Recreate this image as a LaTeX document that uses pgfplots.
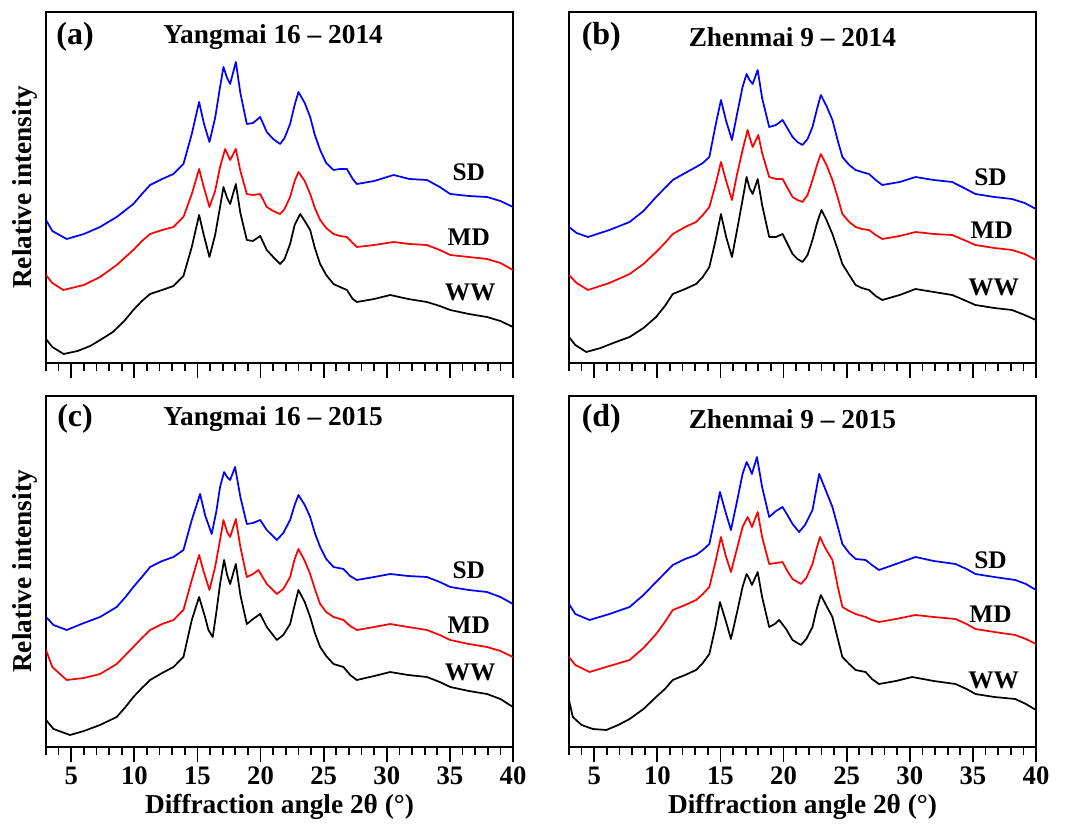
\documentclass[border=0pt]{standalone}
\usepackage{pgfplots}
\pgfplotsset{compat=1.18}
\usepackage{fontspec}
\setmainfont{Liberation Serif}
\begin{document}
\begin{tikzpicture}
\pgfplotsset{
  xrdpanel/.style={
    scale only axis, width=350.25pt, height=263.25pt,
    anchor=south west,
    xmin=3, xmax=40, ymin=0, ymax=351,
    axis line style={line width=1.4pt},
    xtick={5,10,...,40}, minor xtick={3,4,...,40},
    ytick=\empty,
    xtick pos=bottom, tick align=outside,
    major tick length=11.5pt, minor tick length=6pt,
    every tick/.style={line width=1.3pt,black},
    font=\fontsize{19}{22}\selectfont\bfseries,
    ticklabel style={font=\fontsize{20}{22}\selectfont\bfseries},
    /pgf/number format/assume math mode=true,
    ylabel={Relative intensity},
    ylabel style={at={(axis description cs:-0.045,0.5)},anchor=center,font=\fontsize{20.5}{24}\selectfont\bfseries},
    xlabel style={font=\fontsize{20.5}{24}\selectfont\bfseries},
    clip=true,
  },
  ww/.style={black,line width=1.3pt,line join=round},
  md/.style={red,line width=1.3pt,line join=round},
  sd/.style={blue,line width=1.3pt,line join=round},
}
\newcommand{\lbl}[1]{\fontsize{19}{22}\selectfont\bfseries #1}
\newcommand{\ttl}[1]{\fontsize{20.5}{24}\selectfont\bfseries #1}
\newcommand{\pan}[1]{\fontsize{24}{28}\selectfont\bfseries #1}
\path (0pt,0pt) rectangle (801.75pt,615.75pt);
% ---------------- (a)
\begin{axis}[xrdpanel, at={(34.5pt,343.5pt)}, xticklabels=\empty]
\addplot[ww] coordinates {(3,24) (3.5,16) (4.4,9) (5.5,12) (6.5,17) (7.3,23) (8.3,31) (9.2,42) (9.92,53) (10.6,62) (11.25,69) (12.2,73) (13.1,77) (13.89,87) (14.55,116) (15.13,148) (15.5,128) (15.95,106) (16.4,128) (16.79,156) (17.06,176) (17.35,165) (17.59,159) (18.04,179) (18.4,150) (18.91,123) (19.4,122) (19.97,127) (20.49,113) (21.0,106) (21.55,99) (21.9,104) (22.34,119) (22.7,138) (23.14,149) (23.5,142) (23.93,133) (24.3,115) (24.72,99) (25.2,88) (25.78,79) (26.3,76) (26.84,73) (27.3,64) (27.63,61) (29.0,64) (30.27,68) (31.7,64) (33.18,61) (34.2,57) (35.03,53) (36.5,49) (37.94,46) (39.0,42) (40,36)};
\addplot[md] coordinates {(3,88) (3.5,80) (4.37,73) (6.0,78) (7.28,86) (8.6,98) (9.92,113) (10.6,122) (11.25,129) (12.2,133) (13.1,136) (13.89,146) (14.55,169) (15.13,194) (15.5,176) (15.95,156) (16.4,172) (16.79,196) (17.19,214) (17.59,203) (18.04,214) (18.4,192) (18.91,169) (19.4,168) (19.97,169) (20.49,156) (21.0,152) (21.55,149) (21.9,154) (22.34,166) (22.7,182) (23.0,191) (23.5,182) (23.93,169) (24.3,155) (24.72,143) (25.2,135) (25.78,129) (26.3,127) (26.84,126) (27.3,120) (27.63,116) (29.0,118) (30.54,121) (31.8,119) (33.18,118) (34.2,113) (35.03,108) (36.5,106) (37.94,104) (39.0,100) (40,93)};
\addplot[sd] coordinates {(3,143) (3.5,132) (4.64,124) (6.0,129) (7.28,136) (8.6,146) (9.92,159) (10.6,169) (11.25,178) (12.2,184) (13.1,189) (13.89,199) (14.55,229) (15.13,261) (15.5,240) (15.95,221) (16.4,245) (16.79,276) (17.06,296) (17.35,285) (17.59,279) (18.04,301) (18.4,270) (18.91,239) (19.4,240) (19.97,246) (20.49,231) (21.0,224) (21.55,219) (21.9,225) (22.34,239) (22.7,258) (23.0,271) (23.5,260) (23.93,246) (24.3,228) (24.72,213) (25.2,200) (25.78,193) (26.3,194) (26.84,194) (27.3,184) (27.63,179) (29.0,182) (30.54,188) (31.8,184) (33.18,183) (34.2,176) (35.03,169) (36.5,167) (37.94,166) (39.0,162) (40,156)};
\node at (axis cs:36.5,191) {\lbl{SD}};
\node at (axis cs:36.5,126) {\lbl{MD}};
\node at (axis cs:36.6,71) {\lbl{WW}};
\node at (axis cs:5.3,326) {\pan{(a)}};
\node at (axis cs:21.0,326) {\ttl{Yangmai 16 – 2014}};
\end{axis}
% ---------------- (b)
\begin{axis}[xrdpanel, at={(426.75pt,343.5pt)}, xticklabels=\empty, ylabel={}]
\addplot[ww] coordinates {(3,26) (3.5,18) (4.37,11) (5.5,15) (6.5,20) (7.8,26) (8.9,35) (9.9,46) (10.6,57) (11.22,69) (12.2,74) (13.07,79) (13.6,86) (14.12,96) (14.6,122) (15.04,149) (15.45,126) (15.91,106) (16.3,132) (16.75,163) (17.07,186) (17.3,175) (17.55,169) (17.95,184) (18.3,158) (18.86,126) (19.4,126) (19.92,129) (20.71,109) (21.1,104) (21.5,101) (21.9,108) (22.29,123) (22.65,140) (23.0,153) (23.4,143) (23.87,129) (24.3,113) (24.66,99) (25.2,88) (25.71,78) (26.2,75) (26.77,73) (27.3,67) (27.82,63) (29.2,68) (30.46,74) (31.9,71) (33.36,68) (34.3,63) (35.2,58) (36.7,55) (38.1,53) (39.1,48) (40,43)};
\addplot[md] coordinates {(3,88) (3.6,80) (4.5,73) (6.2,80) (7.8,89) (8.9,99) (9.9,111) (10.6,120) (11.22,129) (12.2,136) (13.07,141) (13.6,148) (14.12,156) (14.6,178) (15.04,201) (15.45,182) (15.91,163) (16.3,188) (16.75,213) (17.15,233) (17.3,226) (17.55,216) (18.0,228) (18.3,210) (18.86,186) (19.4,184) (19.92,184) (20.71,166) (21.1,163) (21.5,161) (21.9,168) (22.29,183) (22.65,198) (22.95,209) (23.4,198) (23.87,183) (24.3,165) (24.66,149) (25.2,141) (25.71,136) (26.2,134) (26.77,133) (27.3,128) (27.82,124) (29.2,127) (30.46,131) (31.9,129) (33.36,128) (34.3,123) (35.2,118) (36.7,115) (38.1,113) (39.1,109) (40,103)};
\addplot[sd] coordinates {(3,136) (3.6,130) (4.5,126) (6.2,133) (7.8,141) (8.9,152) (9.9,166) (10.6,175) (11.22,183) (12.2,190) (13.07,196) (13.6,200) (14.12,206) (14.6,237) (15.04,263) (15.45,242) (15.91,223) (16.3,248) (16.75,276) (17.07,289) (17.3,283) (17.55,279) (17.95,293) (18.3,265) (18.86,236) (19.4,238) (19.92,243) (20.71,226) (21.1,221) (21.5,218) (21.9,224) (22.29,236) (22.65,254) (22.95,268) (23.4,257) (23.87,243) (24.3,222) (24.66,206) (25.2,198) (25.71,193) (26.2,191) (26.77,189) (27.3,183) (27.82,178) (29.2,181) (30.46,186) (31.9,183) (33.36,181) (34.3,175) (35.2,169) (36.7,166) (38.1,164) (39.1,160) (40,154)};
\node at (axis cs:36.4,186) {\lbl{SD}};
\node at (axis cs:36.5,133) {\lbl{MD}};
\node at (axis cs:36.65,76) {\lbl{WW}};
\node at (axis cs:5.56,326) {\pan{(b)}};
\node at (axis cs:20.7,326) {\ttl{Zhenmai 9 – 2014}};
\end{axis}
% ---------------- (c)
\begin{axis}[xrdpanel, at={(34.5pt,55.5pt)}, xlabel={Diffraction angle 2θ (°)}]
\addplot[ww] coordinates {(3,27) (3.6,18) (4.9,12) (6.0,16) (7.28,22) (8.6,30) (9.3,40) (9.92,50) (10.6,59) (11.25,67) (12.2,74) (13.1,80) (13.89,90) (14.55,127) (15.13,150) (15.6,130) (15.87,117) (16.21,110) (16.5,135) (16.79,163) (17.11,187) (17.35,172) (17.59,163) (18.04,183) (18.4,152) (18.91,123) (19.4,128) (19.97,133) (20.49,120) (21.29,107) (21.8,112) (22.34,123) (22.7,142) (23.0,157) (23.5,145) (23.93,130) (24.3,114) (24.72,100) (25.2,91) (25.78,83) (26.57,80) (27.1,72) (27.63,67) (29.0,71) (30.27,75) (31.7,72) (33.18,70) (34.2,65) (35.03,60) (36.5,56) (37.94,53) (39.0,48) (40,40)};
\addplot[md] coordinates {(3,97) (3.5,80) (4.64,67) (6.0,69) (7.28,73) (8.6,83) (9.92,100) (10.6,109) (11.25,117) (12.2,123) (13.1,127) (13.89,137) (14.55,167) (15.13,192) (15.5,175) (15.95,157) (16.4,180) (16.79,207) (17.06,227) (17.35,215) (17.59,210) (18.04,228) (18.4,200) (18.91,170) (19.4,173) (19.83,177) (20.49,163) (21.29,153) (21.8,158) (22.34,170) (22.7,188) (23.0,198) (23.5,186) (23.93,173) (24.3,158) (24.72,143) (25.2,135) (25.78,130) (26.57,127) (27.1,121) (27.63,117) (29.0,120) (30.27,123) (31.7,120) (33.18,117) (34.2,112) (35.03,107) (36.5,103) (37.94,100) (39.0,96) (40,90)};
\addplot[sd] coordinates {(3,130) (3.6,122) (4.64,117) (6.0,124) (7.28,130) (8.6,140) (9.3,150) (9.92,160) (10.6,170) (11.25,180) (12.2,186) (13.1,190) (13.89,197) (14.55,227) (15.21,253) (15.6,232) (16.13,213) (16.5,236) (16.79,260) (17.11,275) (17.35,270) (17.59,267) (17.98,280) (18.4,250) (18.91,223) (19.4,224) (19.97,227) (20.49,217) (21.29,207) (21.8,214) (22.34,227) (22.7,242) (23.0,252) (23.5,242) (23.93,230) (24.3,214) (24.72,200) (25.2,188) (25.78,180) (26.57,178) (27.1,171) (27.63,167) (29.0,170) (30.27,173) (31.7,171) (33.18,170) (34.2,165) (35.03,160) (36.5,157) (37.94,155) (39.0,150) (40,143)};
\node at (axis cs:36.5,177) {\lbl{SD}};
\node at (axis cs:36.5,122) {\lbl{MD}};
\node at (axis cs:36.6,75) {\lbl{WW}};
\node at (axis cs:5.3,328) {\pan{(c)}};
\node at (axis cs:21.0,328) {\ttl{Yangmai 16 – 2015}};
\end{axis}
% ---------------- (d)
\begin{axis}[xrdpanel, at={(426.75pt,55.5pt)}, ylabel={}, xlabel={Diffraction angle 2θ (°)}]
\addplot[ww] coordinates {(3,47) (3.3,30) (4.0,22) (4.9,18) (5.95,17) (6.9,22) (7.8,28) (8.9,38) (9.9,50) (10.6,58) (11.22,67) (12.2,72) (13.07,77) (13.6,84) (14.12,93) (14.6,120) (14.96,145) (15.4,127) (15.83,108) (16.3,134) (16.75,160) (17.07,173) (17.3,168) (17.49,162) (17.95,175) (18.3,150) (18.86,120) (19.3,123) (19.65,127) (20.2,118) (20.71,107) (21.37,102) (21.8,108) (22.29,120) (22.6,137) (22.95,152) (23.4,141) (23.87,130) (24.3,108) (24.66,90) (25.2,83) (25.71,77) (26.5,75) (27.0,68) (27.56,63) (28.9,66) (30.19,70) (31.9,66) (33.62,63) (34.5,58) (35.2,53) (36.7,50) (38.36,48) (39.2,43) (40,37)};
\addplot[md] coordinates {(3,90) (3.5,82) (4.63,75) (6.2,81) (7.8,87) (8.9,99) (9.9,113) (10.6,125) (11.22,137) (12.2,142) (13.07,147) (13.6,153) (14.12,160) (14.6,185) (15.04,210) (15.4,192) (15.83,175) (16.3,198) (16.75,220) (17.15,230) (17.3,226) (17.49,220) (17.95,235) (18.3,210) (18.86,183) (19.4,184) (19.92,185) (20.3,176) (20.71,168) (21.37,163) (21.8,169) (22.29,183) (22.6,198) (22.89,210) (23.3,199) (23.87,187) (24.3,160) (24.66,140) (25.2,136) (25.71,133) (26.5,130) (27.0,127) (27.56,125) (28.9,128) (30.46,132) (31.9,130) (33.62,128) (34.5,123) (35.2,118) (36.7,115) (38.36,112) (39.2,108) (40,103)};
\addplot[sd] coordinates {(3,143) (3.5,133) (4.63,127) (6.2,133) (7.8,140) (8.9,152) (9.9,165) (10.6,174) (11.22,182) (12.2,188) (13.07,192) (13.6,197) (14.12,203) (14.6,232) (14.96,255) (15.4,235) (15.83,217) (16.3,245) (16.75,273) (17.07,285) (17.3,279) (17.49,273) (17.89,290) (18.3,260) (18.86,230) (19.4,236) (19.92,240) (20.3,232) (20.71,223) (21.23,215) (21.7,222) (22.29,237) (22.6,258) (22.82,273) (23.3,258) (23.87,240) (24.3,220) (24.66,203) (25.2,194) (25.71,188) (26.5,187) (27.0,182) (27.56,177) (28.9,183) (30.46,190) (31.9,186) (33.62,183) (34.5,178) (35.2,173) (36.7,170) (38.36,167) (39.2,163) (40,157)};
\node at (axis cs:36.4,187) {\lbl{SD}};
\node at (axis cs:36.4,133) {\lbl{MD}};
\node at (axis cs:36.65,67) {\lbl{WW}};
\node at (axis cs:5.56,328) {\pan{(d)}};
\node at (axis cs:20.7,328) {\ttl{Zhenmai 9 – 2015}};
\end{axis}
\end{tikzpicture}
\end{document}
